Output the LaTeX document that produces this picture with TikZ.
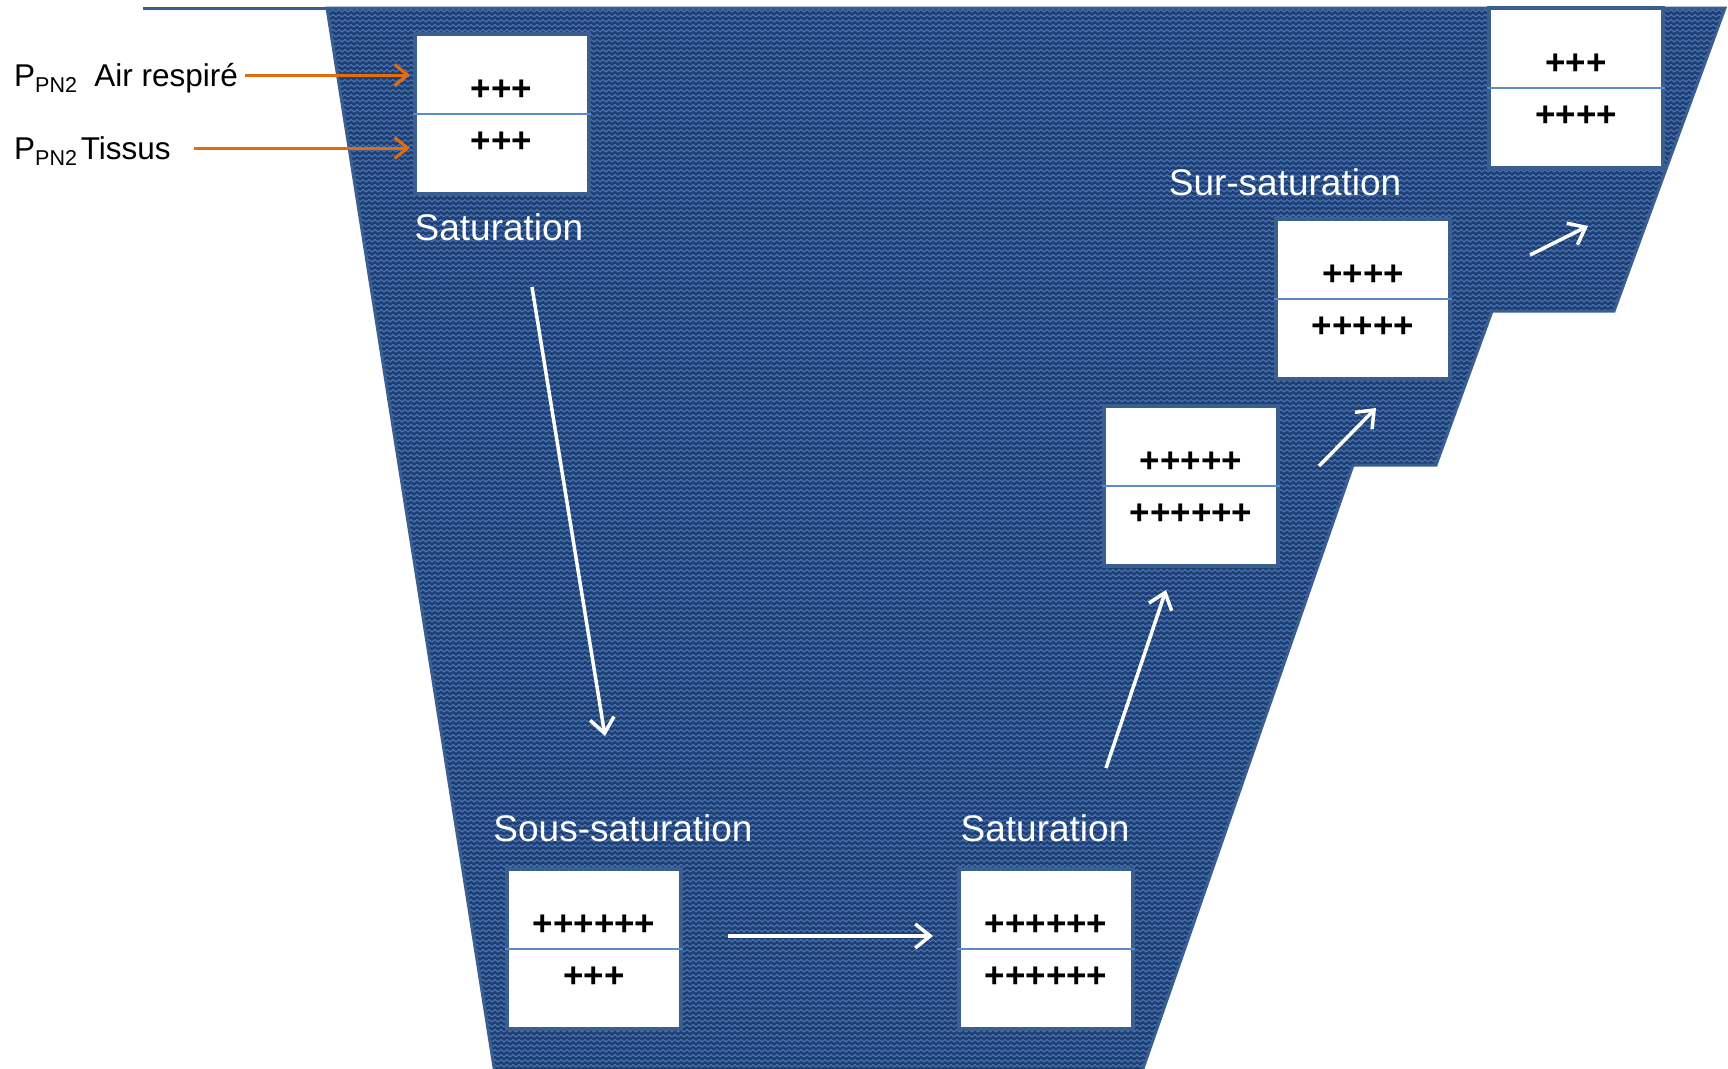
\documentclass[tikz,border=0pt]{standalone}
\usepackage{fontspec}
\setmainfont{Liberation Sans}
\usetikzlibrary{patterns,arrows.meta}
\definecolor{navy}{HTML}{203F70}
\definecolor{wavec}{HTML}{4677BA}
\definecolor{edgec}{HTML}{3B5E90}
\definecolor{divc}{HTML}{5B8BCB}
\definecolor{orng}{HTML}{E46C0A}
\pgfdeclarepatternformonly{waves}{\pgfqpoint{-1pt}{-1pt}}{\pgfqpoint{7pt}{6pt}}{\pgfqpoint{6pt}{5pt}}{%
  \pgfsetlinewidth{1.1pt}%
  \pgfpathmoveto{\pgfqpoint{0pt}{1pt}}%
  \pgfpathlineto{\pgfqpoint{3pt}{3.5pt}}%
  \pgfpathlineto{\pgfqpoint{6pt}{1pt}}%
  \pgfusepath{stroke}}
\newcommand\subpn[1]{\raisebox{-6pt}{\fontsize{21.5}{21.5}\selectfont #1}}
\newcommand\gbx[5]{%
  \node[gbox] (#1) at (#2,#3) {};
  \draw[divline] (#1.west) -- (#1.east);
  \node[plus] (#1u) at ([yshift=24pt]#1.center) {#4};
  \node[plus] (#1l) at ([yshift=-28pt]#1.center) {#5};
}
\begin{document}
\begin{tikzpicture}[x=1pt,y=-1pt,
  gbox/.style={rectangle, fill=white, draw=edgec, line width=4pt, minimum width=174pt, minimum height=160pt, inner sep=0pt},
  divline/.style={draw=divc, line width=2pt},
  plus/.style={inner sep=0pt, font=\fontsize{35}{35}\selectfont\bfseries, text=black},
  wlab/.style={inner sep=0pt, font=\fontsize{37}{37}\selectfont, text=white},
  olab/.style={inner sep=0pt, font=\fontsize{31.5}{31.5}\selectfont, text=black},
  warr/.style={draw=white, line width=3.5pt, -{Straight Barb[length=15pt,width=24pt,line width=3.5pt]}},
  oarr/.style={draw=orng, line width=3pt, -{Straight Barb[length=13pt,width=21pt,line width=3pt]}}
]
\useasboundingbox (0,0) rectangle (1728,1068);
\fill[white] (0,0) rectangle (1728,1068);
% funnel shape
\fill[navy] (327,8) -- (1725,8) -- (1614,311) -- (1492,311) -- (1436,465) -- (1353,465) -- (1139,1080) -- (496,1080) -- cycle;
\fill[pattern=waves, pattern color=wavec] (327,8) -- (1725,8) -- (1614,311) -- (1492,311) -- (1436,465) -- (1353,465) -- (1139,1080) -- (496,1080) -- cycle;
\draw[edgec, line width=3pt, line join=miter] (327,8) -- (1725,8) -- (1614,311) -- (1492,311) -- (1436,465) -- (1353,465) -- (1139,1080) -- (496,1080) -- cycle;
\draw[edgec, line width=3pt] (143,8) -- (330,8);

% boxes
\gbx{b1}{501.5}{114}{+++}{+++}
\gbx{b2}{1576}{88}{+++}{++++}
\gbx{b3}{1363}{299}{++++}{+++++}
\gbx{b4}{1191}{486}{+++++}{++++++}
\gbx{b5}{594}{949}{++++++}{+++}
\gbx{b6}{1046}{949}{++++++}{++++++}

% white labels
\node[wlab] (l1) at (499,227) {Saturation};
\node[wlab] (l2) at (1285,182) {Sur-saturation};
\node[wlab] (l3) at (623,828) {Sous-saturation};
\node[wlab] (l4) at (1045,828) {Saturation};

% left labels
\node[olab, anchor=base west] (pair) at (14,86) {P\subpn{PN2}\hspace{0.55em}Air respiré};
\node[olab, anchor=base west] (ptis) at (14,159) {P\subpn{PN2}\hspace{0.12em}Tissus};

% arrow end points
\coordinate (o1s) at (245,75);
\coordinate (o1e) at (410,75);
\coordinate (o2s) at (194,148);
\coordinate (o2e) at (410,148);
\draw[oarr] (o1s) -- (o1e);
\draw[oarr] (o2s) -- (o2e);

\coordinate (a1s) at (532,287);
\coordinate (a1e) at (605,736);
\coordinate (a2s) at (728,936);
\coordinate (a2e) at (933,936);
\coordinate (a3s) at (1106,768);
\coordinate (a3e) at (1166,590);
\coordinate (a4s) at (1319,466);
\coordinate (a4e) at (1376,408);
\coordinate (a5s) at (1530,255);
\coordinate (a5e) at (1588,226);
\draw[warr] (a1s) -- (a1e);
\draw[warr] (a2s) -- (a2e);
\draw[warr] (a3s) -- (a3e);
\draw[warr] (a4s) -- (a4e);
\draw[warr] (a5s) -- (a5e);
\end{tikzpicture}
\end{document}
